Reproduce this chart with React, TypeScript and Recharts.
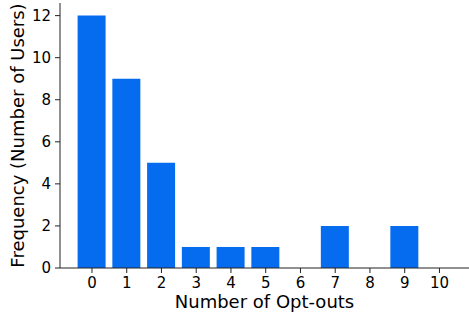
import React from "react";
import { BarChart, Bar, XAxis, YAxis, Label } from "recharts";

const optOuts = [0, 1, 2, 3, 4, 5, 6, 7, 8, 9, 10];
const users = [12, 9, 5, 1, 1, 1, 0, 2, 0, 2, 0];
const yTicks = [0, 2, 4, 6, 8, 10, 12];

const data = optOuts.map((n, i) => ({ n, users: users[i] }));

const font = "DejaVu Sans, sans-serif";

const YTitle = (props: any) => {
  const vb = props.viewBox;
  const cy = vb.y + vb.height / 2;
  return (
    <text
      transform={`translate(24, ${cy}) rotate(-90)`}
      textAnchor="middle"
      fontSize={18}
      fontFamily={font}
      fill="#000"
    >
      Frequency (Number of Users)
    </text>
  );
};

export default function App() {
  return (
    <div
      style={{
        position: "absolute",
        left: 0,
        top: 0,
        width: 469,
        height: 317,
        overflow: "hidden",
        background: "#fff",
      }}
    >
      <BarChart
        width={469}
        height={317}
        data={data}
        margin={{ top: 3, right: 0, left: 0, bottom: 0 }}
      >
        <XAxis
          dataKey="n"
          type="number"
          domain={[-0.92, 10.85]}
          ticks={optOuts}
          allowDataOverflow
          height={49}
          tickSize={5}
          tickMargin={4}
          stroke="#222"
          tick={{ fill: "#000", fontSize: 15, fontFamily: font }}
          interval={0}
        >
          <Label
            value="Number of Opt-outs"
            position="insideBottom"
            offset={9}
            style={{ fontSize: 18, fontFamily: font, fill: "#000" }}
          />
        </XAxis>
        <XAxis
          xAxisId="top"
          orientation="top"
          dataKey="n"
          type="number"
          domain={[-0.92, 10.85]}
          height={0}
          tick={false}
          tickLine={false}
          stroke="#222"
        />
        <YAxis
          domain={[0, 12.6]}
          ticks={yTicks}
          allowDataOverflow
          width={60}
          tickSize={5}
          tickMargin={4}
          stroke="#222"
          tick={{ fill: "#000", fontSize: 15, fontFamily: font }}
          label={<YTitle />}
        />
        <Bar
          dataKey="users"
          fill="#056cf0"
          barSize={28}
          isAnimationActive={false}
        />
      </BarChart>
    </div>
  );
}
